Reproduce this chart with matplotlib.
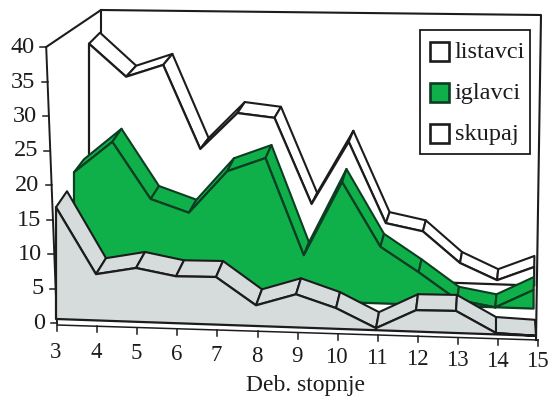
import numpy as np
import matplotlib
matplotlib.use("Agg")
import matplotlib.pyplot as plt
from matplotlib.patches import Polygon, Rectangle
from matplotlib.transforms import Affine2D

plt.rcParams['font.family'] = ['Liberation Serif', 'DejaVu Serif']

# ---- data
stopnje = [3, 4, 5, 6, 7, 8, 9, 10, 11, 12, 13, 14, 15]
y_ticks = [0, 5, 10, 15, 20, 25, 30, 35, 40]
listavci = [16.2, 6.7, 7.8, 6.8, 6.9, 3.0, 4.8, 3.0, 0.3, 3.1, 3.2, 0.2, 0.0]
iglavci = [17.5, 22.1, 14.0, 12.2, 18.4, 20.5, 6.6, 17.4, 8.2, 4.7, 0.9, 0.0, 2.7]
skupaj = [32.8, 28.2, 30.1, 18.1, 23.5, 23.0, 10.7, 19.9, 8.3, 7.3, 2.9, 0.6, 2.7]
legend_names = ['listavci', 'iglavci', 'skupaj']
x_title = 'Deb. stopnje'

# ---- look
INK = '#1c1c1c'
GREEN = '#0fb04a'
GREEN_EDGE = '#0d3d22'
GREY = '#d6dbdb'
UNIT = 6.9  # pixels per value unit


def edge(x_left, step, base, slope=1.3):
    """Affine map of a series edge: (stopnja, value) -> picture pixels."""
    return Affine2D.from_values(step, slope, 0, -UNIT,
                                x_left - 3 * step, base - 3 * slope)


fig = plt.figure(figsize=(5.52, 3.99), dpi=100)
ax = fig.add_axes([0, 0, 1, 1])
ax.set_xlim(0, 552)
ax.set_ylim(399, 0)
ax.axis('off')

x = np.array(stopnje, float)

# wall frame
yt = np.array(y_ticks, float)
axis_x = 57 - 0.27 * yt
axis_y = 323 - UNIT * yt
ax.plot([axis_x[-1], 101, 541, 536], [axis_y[-1], 10, 15, 340], color=INK, lw=1.5, zorder=1)
ax.plot([101, 101], [10, 37], color=INK, lw=1.5, zorder=1)
ax.plot(axis_x, axis_y, color=INK, lw=1.4, zorder=1)
for px, py, v in zip(axis_x, axis_y, y_ticks):
    ax.plot([px - 6, px], [py, py], color=INK, lw=1.1, zorder=1)
    ax.text(px - 12, py + 0.5, str(v), ha='right', va='center',
            fontsize=17.5, color=INK, zorder=6)

series = [
    (skupaj, 'white', INK, (89, 37.1, 270), (100, 36.2, 259)),
    (iglavci, GREEN, GREEN_EDGE, (74, 38.3, 293), (84, 37.5, 280)),
    (listavci, GREY, INK, (56, 40.0, 319, 1.4), (67, 39.0, 303, 1.4)),
]

z = 2
for values, face, line, front_args, back_args in series:
    v = np.array(values, float)
    front_t, back_t = edge(*front_args), edge(*back_args)
    pts = np.column_stack([x, v])
    front = front_t.transform(pts)
    back = back_t.transform(pts)
    # left cap and top ribbon, segment by segment
    for i in range(len(x) - 1):
        quad = [front[i], back[i], back[i + 1], front[i + 1]]
        ax.add_patch(Polygon(quad, closed=True, facecolor=face, edgecolor=line,
                             lw=1.5, joinstyle='round', zorder=z))
    # front face down to the series' own floor
    floor = front_t.transform(np.column_stack([x, np.zeros_like(x)]))
    ax.add_patch(Polygon(np.vstack([front, floor[::-1]]), closed=True,
                         facecolor=face, edgecolor=line, lw=1.6,
                         joinstyle='round', zorder=z + 0.5))
    z += 1

# category axis
tick_x = 57 + 40.1 * (x - 3)
tick_y = 325 + 1.25 * (x - 3)
ax.plot(tick_x, tick_y, color=INK, lw=1.1, zorder=6)
for px, py, sx in zip(tick_x, tick_y, stopnje):
    ax.plot([px, px], [py, py + 6], color=INK, lw=1.1, zorder=6)
    ax.text(px - 1, 352 + 0.83 * (sx - 3), str(sx), ha='center', va='center',
            fontsize=16.5, color=INK, zorder=6)
ax.text(305, 385, x_title, ha='center', va='center', fontsize=17, color=INK, zorder=6)

# legend
ax.add_patch(Rectangle((419.5, 30), 110, 123.5, facecolor='white', edgecolor=INK, lw=1.3, zorder=7))
faces = ['white', GREEN, 'white']
edges = [INK, GREEN_EDGE, INK]
for name, fc, ec, cy in zip(legend_names, faces, edges, [51, 92, 133]):
    ax.add_patch(Rectangle((430, cy - 9.5), 18.5, 19, facecolor=fc, edgecolor=ec, lw=1.9, zorder=8))
    ax.text(455, cy + 1.5, name, ha='left', va='center', fontsize=17.5, color=INK, zorder=8)

fig.savefig('out.png', dpi=100, facecolor='white')
